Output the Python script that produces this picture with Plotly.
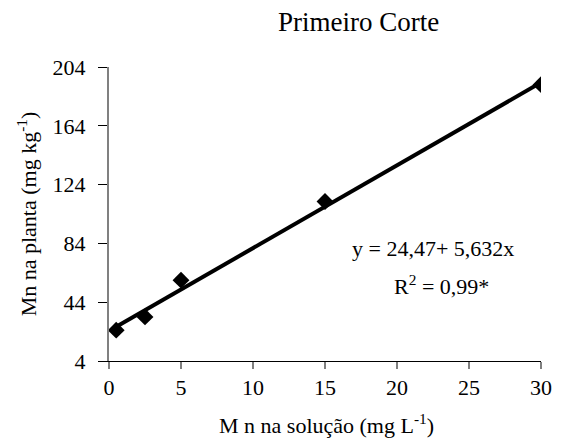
import numpy as np
import plotly.graph_objects as go

# Mn concentration in nutrient solution (mg L-1) and Mn in plant tissue (mg kg-1)
mn_solucao = [0.5, 2.5, 5, 15, 30]
mn_planta = [25.0, 34.0, 59.0, 112.5, 192.0]

# fitted linear model
intercepto = 24.47
inclinacao = 5.632

x_tick_vals = [0, 5, 10, 15, 20, 25, 30]
y_tick_vals = [4, 44, 84, 124, 164, 204]

x_fit = np.array([mn_solucao[0], mn_solucao[-1]])
y_fit = intercepto + inclinacao * x_fit

FONT = "Liberation Serif"
FS = 22

fig = go.Figure()
fig.add_trace(go.Scatter(
    x=x_fit, y=y_fit, mode="lines",
    line=dict(color="black", width=4),
    showlegend=False, hoverinfo="skip",
))
fig.add_trace(go.Scatter(
    x=mn_solucao, y=mn_planta, mode="markers",
    marker=dict(symbol="diamond", size=13, color="black"),
    showlegend=False,
))

ML, MR, MT, MB = 109, 17, 67, 78
W, H = 564, 439
PW, PH = W - ML - MR, H - MT - MB


def px_to_paper(px, py):
    """Convert a page pixel position into paper coordinates."""
    return (px - ML) / PW, (H - MB - py) / PH


title_x, title_y = px_to_paper(362, 22)
xlab_x, xlab_y = px_to_paper(330, 424)

fig.update_layout(
    width=W, height=H,
    margin=dict(l=ML, r=MR, t=MT, b=MB),
    plot_bgcolor="white", paper_bgcolor="white",
    font=dict(family=FONT, size=FS, color="black"),
    xaxis=dict(
        range=[0, 30], tickvals=x_tick_vals,
        showgrid=False, zeroline=False,
        showline=True, linecolor="black", linewidth=1,
        ticks="outside", ticklen=7, tickcolor="#808080", tickwidth=2,
        tickfont=dict(family=FONT, size=FS),
    ),
    yaxis=dict(
        range=[4, 204], tickvals=y_tick_vals,
        showgrid=False, zeroline=False,
        showline=True, linecolor="#808080", linewidth=2,
        ticks="outside", ticklen=9, tickcolor="black", tickwidth=1,
        ticklabelstandoff=8,
        tickfont=dict(family=FONT, size=FS),
        title=dict(text="Mn na planta (mg kg<sup>-1</sup>)",
                   font=dict(family=FONT, size=FS), standoff=10),
    ),
    annotations=[
        dict(text="Primeiro Corte", x=title_x, y=title_y,
             xref="paper", yref="paper", xanchor="center", yanchor="middle",
             showarrow=False, font=dict(family=FONT, size=27)),
        dict(text="M n na solução (mg L<sup>-1</sup>)", x=xlab_x, y=xlab_y,
             xref="paper", yref="paper", xanchor="center", yanchor="middle",
             showarrow=False, font=dict(family=FONT, size=FS)),
        dict(text="y = 24,47+ 5,632x", x=22.5, y=80.5,
             xref="x", yref="y", xanchor="center", yanchor="middle",
             showarrow=False, font=dict(family=FONT, size=FS)),
        dict(text="R<sup>2</sup> = 0,99*", x=23.1, y=55.5,
             xref="x", yref="y", xanchor="center", yanchor="middle",
             showarrow=False, font=dict(family=FONT, size=FS)),
    ],
)

fig.write_html("out.html")
